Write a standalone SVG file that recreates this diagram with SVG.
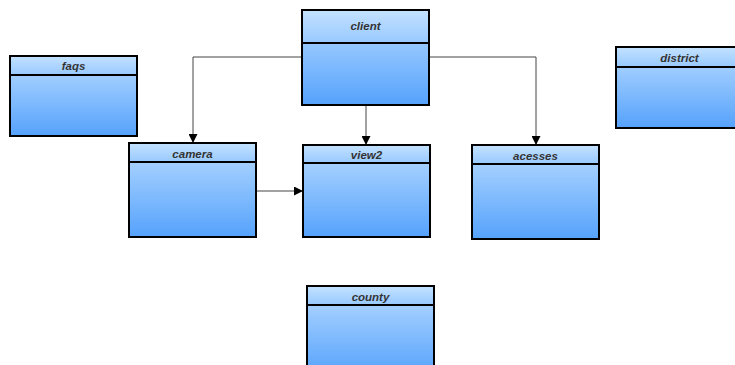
<svg xmlns="http://www.w3.org/2000/svg" width="735" height="365" viewBox="0 0 735 365">
  <defs>
    <linearGradient id="hdr" x1="0" y1="0" x2="0" y2="1">
      <stop offset="0" stop-color="#c4e2ff"/>
      <stop offset="1" stop-color="#98c9ff"/>
    </linearGradient>
    <linearGradient id="body" x1="0" y1="0" x2="0" y2="1">
      <stop offset="0" stop-color="#b8dbff"/>
      <stop offset="1" stop-color="#55a2fc"/>
    </linearGradient>
    <marker id="arrow" viewBox="0 0 10 10" refX="10" refY="5" markerWidth="9" markerHeight="9" markerUnits="userSpaceOnUse" orient="auto">
      <path d="M0,0 L10,5 L0,10 Z" fill="#000"/>
    </marker>
    <style>
      .hdr { fill: url(#hdr); stroke: #000; stroke-width: 2; }
      .body { fill: url(#body); stroke: #000; stroke-width: 2; }
      .title { font-family: "Liberation Sans", Arial, sans-serif; font-size: 11.5px; font-style: italic; font-weight: bold; fill: #333; text-anchor: middle; }
      .edge { fill: none; stroke: #444; stroke-width: 1; marker-end: url(#arrow); }
    </style>
  </defs>
  <rect width="735" height="365" fill="#fff"/>

  <g id="connectors">
    <path class="edge" d="M302,57 H193 V143"/>
    <path class="edge" d="M429,57 H536 V145"/>
    <path class="edge" d="M366,105 V145"/>
    <path class="edge" d="M256,191 H303"/>
  </g>

  <g id="client">
    <rect class="body" x="302" y="10" width="127" height="95"/>
    <rect class="hdr" x="302" y="10" width="127" height="33"/>
    <text class="title" x="365.5" y="30">client</text>
  </g>

  <g id="faqs">
    <rect class="body" x="10" y="56" width="127" height="80"/>
    <rect class="hdr" x="10" y="56" width="127" height="19"/>
    <text class="title" x="73.5" y="70">faqs</text>
  </g>

  <g id="district">
    <rect class="body" x="616" y="47" width="127" height="81"/>
    <rect class="hdr" x="616" y="47" width="127" height="20"/>
    <text class="title" x="679.5" y="61.5">district</text>
  </g>

  <g id="camera">
    <rect class="body" x="129" y="143" width="127" height="94"/>
    <rect class="hdr" x="129" y="143" width="127" height="19"/>
    <text class="title" x="192.5" y="157.5">camera</text>
  </g>

  <g id="view2">
    <rect class="body" x="303" y="145" width="127" height="92"/>
    <rect class="hdr" x="303" y="145" width="127" height="18"/>
    <text class="title" x="366.5" y="159">view2</text>
  </g>

  <g id="acesses">
    <rect class="body" x="472" y="145" width="127" height="94"/>
    <rect class="hdr" x="472" y="145" width="127" height="19"/>
    <text class="title" x="535.5" y="159.5">acesses</text>
  </g>

  <g id="county">
    <rect class="body" x="307" y="286" width="127" height="90"/>
    <rect class="hdr" x="307" y="286" width="127" height="19"/>
    <text class="title" x="370.5" y="300.5">county</text>
  </g>
</svg>
